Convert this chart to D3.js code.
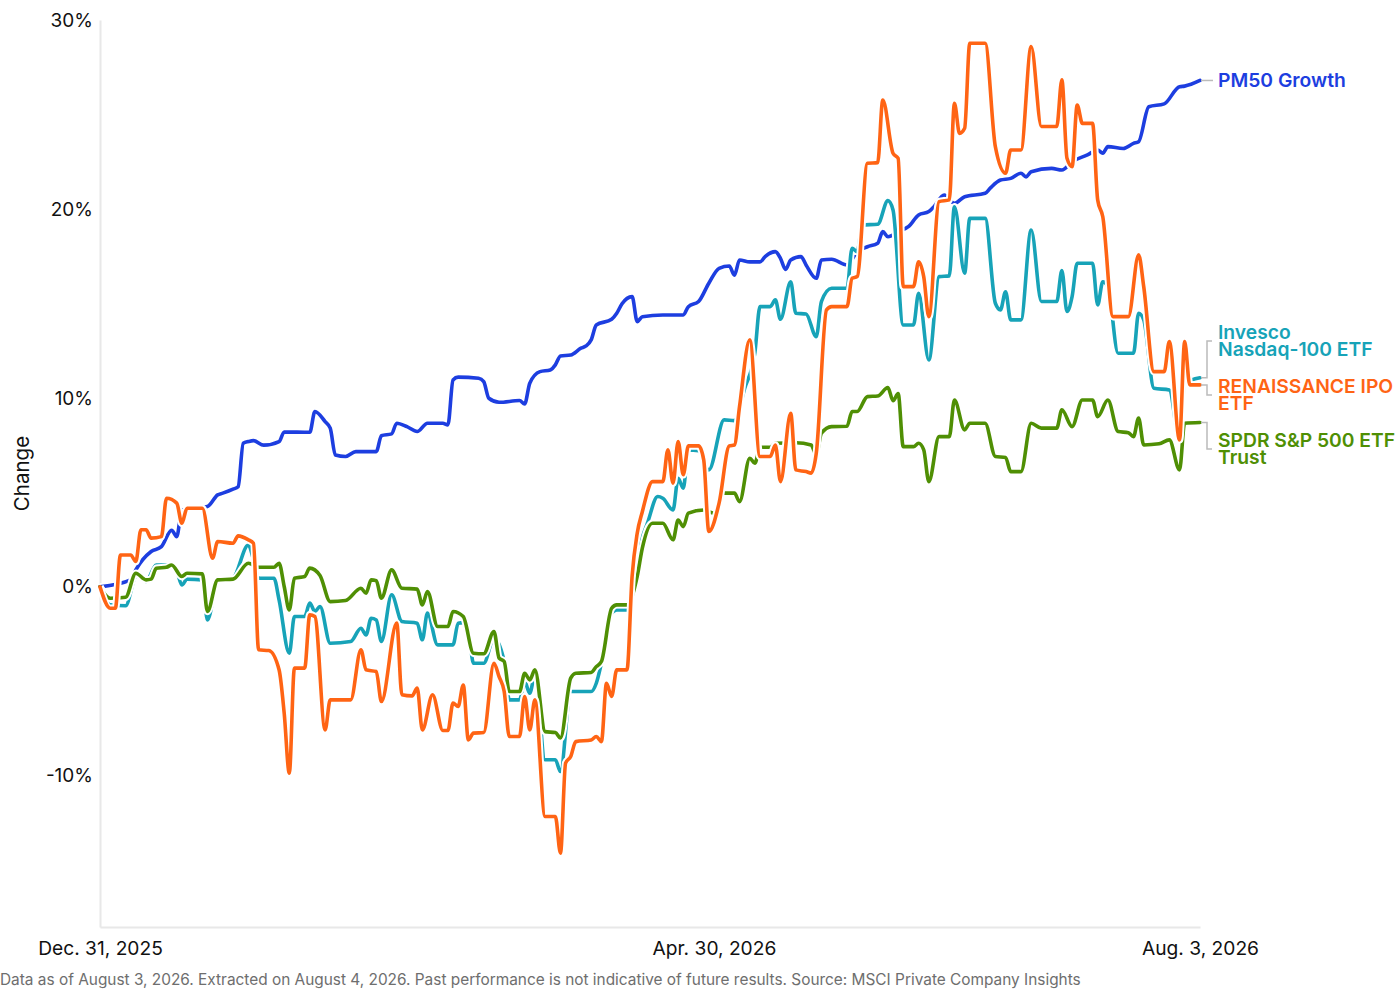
<!DOCTYPE html>
<html>
<head>
<meta charset="utf-8">
<script src="https://cdn.jsdelivr.net/npm/d3@7"></script>
<style>
  body { margin: 0; background: #fff; font-family: Inter, "Noto Sans", sans-serif; }
  svg text { font-family: Inter, "Noto Sans", sans-serif; }
</style>
</head>
<body>
<div id="chart"></div>
<script>
// values: % change since Dec. 31, 2025
var pm50 = [
  ["2025-12-31", 0], ["2026-01-06", 0.37], ["2026-01-07", 0.9], ["2026-01-10", 1.87], ["2026-01-12", 2.13],
  ["2026-01-14", 3.0], ["2026-01-15", 2.66], ["2026-01-16", 4.07], ["2026-01-21", 4.25], ["2026-01-23", 4.87],
  ["2026-01-24", 4.96], ["2026-01-26", 5.17], ["2026-01-27", 5.3], ["2026-01-28", 7.6], ["2026-01-29", 7.69],
  ["2026-01-30", 7.74], ["2026-02-01", 7.5], ["2026-02-04", 7.69], ["2026-02-05", 8.2], ["2026-02-10", 8.18],
  ["2026-02-11", 9.28], ["2026-02-13", 8.75], ["2026-02-14", 8.4], ["2026-02-15", 6.98], ["2026-02-17", 6.9],
  ["2026-02-19", 7.16], ["2026-02-23", 7.16], ["2026-02-24", 8.0], ["2026-02-26", 8.1], ["2026-02-27", 8.66],
  ["2026-03-01", 8.48], ["2026-03-03", 8.22], ["2026-03-05", 8.66], ["2026-03-08", 8.66], ["2026-03-09", 8.57],
  ["2026-03-10", 10.95], ["2026-03-11", 11.1], ["2026-03-15", 11.04], ["2026-03-16", 10.86], ["2026-03-17", 9.98],
  ["2026-03-19", 9.77], ["2026-03-23", 9.86], ["2026-03-24", 9.68], ["2026-03-25", 10.78], ["2026-03-27", 11.39],
  ["2026-03-29", 11.48], ["2026-03-30", 11.75], ["2026-03-31", 12.22], ["2026-04-02", 12.27], ["2026-04-04", 12.63],
  ["2026-04-05", 12.75], ["2026-04-06", 13.07], ["2026-04-07", 13.86], ["2026-04-10", 14.16], ["2026-04-11", 14.48],
  ["2026-04-12", 14.97], ["2026-04-14", 15.36], ["2026-04-15", 14.04], ["2026-04-16", 14.3], ["2026-04-20", 14.39],
  ["2026-04-24", 14.39], ["2026-04-25", 14.83], ["2026-04-27", 15.1], ["2026-04-29", 16.07], ["2026-05-01", 16.86],
  ["2026-05-03", 16.98], ["2026-05-04", 16.5], ["2026-05-05", 17.3], ["2026-05-07", 17.2], ["2026-05-09", 17.2],
  ["2026-05-10", 17.48], ["2026-05-12", 17.74], ["2026-05-13", 17.39], ["2026-05-14", 16.8], ["2026-05-15", 17.3],
  ["2026-05-17", 17.48], ["2026-05-18", 17.04], ["2026-05-20", 16.33], ["2026-05-21", 17.3], ["2026-05-23", 17.34],
  ["2026-05-26", 17.04], ["2026-05-28", 17.74], ["2026-05-30", 18.0], ["2026-06-01", 18.19], ["2026-06-02", 18.8],
  ["2026-06-03", 18.53], ["2026-06-05", 18.8], ["2026-06-07", 19.06], ["2026-06-09", 19.68], ["2026-06-11", 19.86],
  ["2026-06-12", 20.12], ["2026-06-14", 20.74], ["2026-06-16", 20.3], ["2026-06-18", 20.65], ["2026-06-22", 20.83],
  ["2026-06-23", 21.1], ["2026-06-25", 21.53], ["2026-06-27", 21.62], ["2026-06-29", 21.89], ["2026-06-30", 21.7],
  ["2026-07-01", 21.97], ["2026-07-05", 22.15], ["2026-07-07", 22.06], ["2026-07-09", 22.5], ["2026-07-12", 22.86],
  ["2026-07-14", 23.12], ["2026-07-15", 22.95], ["2026-07-16", 23.3], ["2026-07-19", 23.2], ["2026-07-21", 23.47],
  ["2026-07-22", 23.56], ["2026-07-24", 25.41], ["2026-07-27", 25.56], ["2026-07-30", 26.47], ["2026-07-31", 26.5],
  ["2026-08-03", 26.8]
];

var invesco = [
  ["2025-12-31", 0], ["2026-01-02", -0.95], ["2026-01-05", -1.0], ["2026-01-07", 0.55], ["2026-01-08", 0.63],
  ["2026-01-09", 0.28], ["2026-01-11", 1.16], ["2026-01-13", 1.16], ["2026-01-15", 0.81], ["2026-01-16", 0.1],
  ["2026-01-17", 0.41], ["2026-01-20", 0.37], ["2026-01-21", -1.75], ["2026-01-23", 0.28], ["2026-01-26", 0.46],
  ["2026-01-29", 2.22], ["2026-01-30", 1.43], ["2026-01-31", 0.46], ["2026-02-03", 0.46], ["2026-02-04", -0.69],
  ["2026-02-06", -3.51], ["2026-02-07", -1.57], ["2026-02-09", -1.57], ["2026-02-10", -0.86], ["2026-02-11", -1.3],
  ["2026-02-12", -1.04], ["2026-02-14", -2.98], ["2026-02-18", -2.89], ["2026-02-20", -2.19], ["2026-02-21", -2.54],
  ["2026-02-22", -1.66], ["2026-02-23", -1.75], ["2026-02-24", -2.89], ["2026-02-26", -0.42], ["2026-02-28", -1.83],
  ["2026-03-03", -1.92], ["2026-03-04", -2.8], ["2026-03-05", -1.39], ["2026-03-07", -3.07], ["2026-03-10", -3.07],
  ["2026-03-11", -1.92], ["2026-03-12", -1.89], ["2026-03-13", -2.28], ["2026-03-14", -4.04], ["2026-03-16", -4.04],
  ["2026-03-18", -2.72], ["2026-03-20", -3.95], ["2026-03-21", -5.98], ["2026-03-23", -5.98], ["2026-03-24", -5.01],
  ["2026-03-25", -5.63], ["2026-03-26", -4.66], ["2026-03-28", -9.15], ["2026-03-30", -9.15], ["2026-03-31", -9.77],
  ["2026-04-02", -5.54], ["2026-04-06", -5.54], ["2026-04-07", -5.1], ["2026-04-08", -4.04], ["2026-04-10", -1.39],
  ["2026-04-11", -1.22], ["2026-04-13", -1.22], ["2026-04-15", 1.43], ["2026-04-16", 2.6], ["2026-04-17", 3.37],
  ["2026-04-19", 4.78], ["2026-04-20", 4.69], ["2026-04-22", 4.07], ["2026-04-23", 5.75], ["2026-04-24", 5.22],
  ["2026-04-25", 7.25], ["2026-04-27", 7.21], ["2026-04-29", 6.19], ["2026-05-02", 8.84], ["2026-05-04", 8.8],
  ["2026-05-06", 10.5], ["2026-05-08", 12.4], ["2026-05-09", 14.83], ["2026-05-11", 14.83], ["2026-05-12", 15.19],
  ["2026-05-13", 14.16], ["2026-05-15", 16.15], ["2026-05-16", 14.48], ["2026-05-18", 14.44], ["2026-05-20", 13.24],
  ["2026-05-21", 15.1], ["2026-05-23", 15.8], ["2026-05-26", 15.8], ["2026-05-27", 17.92], ["2026-05-28", 17.74],
  ["2026-05-29", 19.15], ["2026-06-01", 19.19], ["2026-06-03", 20.44], ["2026-06-04", 19.95], ["2026-06-06", 13.86],
  ["2026-06-08", 13.86], ["2026-06-09", 15.54], ["2026-06-11", 12.01], ["2026-06-13", 16.42], ["2026-06-15", 16.46],
  ["2026-06-16", 20.12], ["2026-06-18", 16.6], ["2026-06-19", 19.5], ["2026-06-22", 19.5], ["2026-06-24", 15.01],
  ["2026-06-25", 14.66], ["2026-06-26", 15.62], ["2026-06-27", 14.13], ["2026-06-29", 14.13], ["2026-07-01", 18.89],
  ["2026-07-03", 15.1], ["2026-07-06", 15.1], ["2026-07-07", 16.74], ["2026-07-08", 14.57], ["2026-07-09", 15.36],
  ["2026-07-10", 17.13], ["2026-07-13", 17.13], ["2026-07-14", 14.92], ["2026-07-15", 16.15], ["2026-07-16", 15.89],
  ["2026-07-18", 12.36], ["2026-07-21", 12.36], ["2026-07-22", 14.48], ["2026-07-23", 14.13], ["2026-07-25", 10.51],
  ["2026-07-28", 10.42], ["2026-07-30", 7.78], ["2026-07-31", 10.78], ["2026-08-03", 11.07]
];

var renaissance = [
  ["2025-12-31", 0], ["2026-01-02", -1.13], ["2026-01-03", -1.13], ["2026-01-04", 1.69], ["2026-01-06", 1.69],
  ["2026-01-07", 1.34], ["2026-01-08", 3.02], ["2026-01-09", 3.02], ["2026-01-10", 2.58], ["2026-01-12", 2.66],
  ["2026-01-13", 4.69], ["2026-01-15", 4.43], ["2026-01-16", 3.37], ["2026-01-17", 4.16], ["2026-01-20", 4.16],
  ["2026-01-22", 1.52], ["2026-01-23", 2.4], ["2026-01-26", 2.31], ["2026-01-27", 2.7], ["2026-01-29", 2.49],
  ["2026-01-30", 2.31], ["2026-01-31", -3.33], ["2026-02-02", -3.37], ["2026-02-04", -4.39], ["2026-02-05", -6.68],
  ["2026-02-06", -9.86], ["2026-02-07", -4.3], ["2026-02-09", -4.3], ["2026-02-10", -1.48], ["2026-02-11", -1.57],
  ["2026-02-13", -7.57], ["2026-02-14", -5.98], ["2026-02-18", -5.98], ["2026-02-20", -3.33], ["2026-02-21", -4.39],
  ["2026-02-23", -4.48], ["2026-02-24", -6.07], ["2026-02-27", -1.92], ["2026-02-28", -5.71], ["2026-03-02", -5.77],
  ["2026-03-03", -5.36], ["2026-03-04", -7.57], ["2026-03-06", -5.71], ["2026-03-08", -7.6], ["2026-03-09", -7.6],
  ["2026-03-10", -6.15], ["2026-03-11", -6.33], ["2026-03-12", -5.19], ["2026-03-13", -8.1], ["2026-03-14", -7.74],
  ["2026-03-16", -7.71], ["2026-03-18", -4.04], ["2026-03-19", -4.75], ["2026-03-20", -5.54], ["2026-03-21", -7.92],
  ["2026-03-23", -7.92], ["2026-03-24", -5.8], ["2026-03-25", -7.57], ["2026-03-26", -5.98], ["2026-03-28", -12.15],
  ["2026-03-30", -12.15], ["2026-03-31", -14.09], ["2026-04-01", -9.33], ["2026-04-02", -8.98], ["2026-04-03", -8.19],
  ["2026-04-06", -8.1], ["2026-04-07", -7.92], ["2026-04-08", -8.19], ["2026-04-09", -5.1], ["2026-04-10", -5.8],
  ["2026-04-11", -4.39], ["2026-04-13", -4.39], ["2026-04-14", 0.55], ["2026-04-15", 2.84], ["2026-04-16", 3.98],
  ["2026-04-18", 5.57], ["2026-04-20", 5.57], ["2026-04-21", 7.25], ["2026-04-22", 5.49], ["2026-04-23", 7.69],
  ["2026-04-24", 5.93], ["2026-04-25", 7.46], ["2026-04-27", 7.46], ["2026-04-28", 6.72], ["2026-04-29", 2.93],
  ["2026-05-01", 4.43], ["2026-05-03", 7.46], ["2026-05-04", 7.51], ["2026-05-05", 9.54], ["2026-05-07", 13.07],
  ["2026-05-09", 6.9], ["2026-05-11", 6.9], ["2026-05-12", 7.51], ["2026-05-13", 5.57], ["2026-05-15", 9.19],
  ["2026-05-16", 6.19], ["2026-05-18", 6.1], ["2026-05-19", 6.02], ["2026-05-20", 7.07], ["2026-05-22", 14.66],
  ["2026-05-23", 14.83], ["2026-05-26", 14.83], ["2026-05-27", 16.33], ["2026-05-28", 16.42], ["2026-05-30", 22.42],
  ["2026-06-01", 22.45], ["2026-06-02", 25.77], ["2026-06-04", 22.95], ["2026-06-05", 22.68], ["2026-06-06", 15.89],
  ["2026-06-08", 15.89], ["2026-06-09", 17.21], ["2026-06-10", 16.42], ["2026-06-11", 14.3], ["2026-06-13", 20.39],
  ["2026-06-15", 20.48], ["2026-06-16", 25.59], ["2026-06-17", 24.0], ["2026-06-18", 24.27], ["2026-06-19", 28.77],
  ["2026-06-22", 28.77], ["2026-06-24", 23.3], ["2026-06-26", 21.89], ["2026-06-27", 23.12], ["2026-06-29", 23.12],
  ["2026-07-01", 28.59], ["2026-07-03", 24.36], ["2026-07-06", 24.36], ["2026-07-07", 26.83], ["2026-07-08", 22.68],
  ["2026-07-09", 22.24], ["2026-07-10", 25.5], ["2026-07-11", 24.53], ["2026-07-13", 24.53], ["2026-07-14", 20.48],
  ["2026-07-15", 19.59], ["2026-07-17", 14.3], ["2026-07-20", 14.3], ["2026-07-22", 17.57], ["2026-07-23", 15.89],
  ["2026-07-25", 11.39], ["2026-07-27", 11.39], ["2026-07-28", 12.98], ["2026-07-30", 7.78], ["2026-07-31", 12.98],
  ["2026-08-01", 10.69], ["2026-08-03", 10.69]
];

var spdr = [
  ["2025-12-31", 0], ["2026-01-02", -0.6], ["2026-01-05", -0.55], ["2026-01-07", 0.72], ["2026-01-09", 0.37],
  ["2026-01-10", 0.41], ["2026-01-11", 0.99], ["2026-01-13", 1.04], ["2026-01-14", 1.16], ["2026-01-16", 0.55],
  ["2026-01-17", 0.72], ["2026-01-20", 0.69], ["2026-01-21", -1.3], ["2026-01-23", 0.37], ["2026-01-26", 0.41],
  ["2026-01-29", 1.25], ["2026-01-31", 1.04], ["2026-02-03", 1.04], ["2026-02-04", 1.25], ["2026-02-05", 0.02],
  ["2026-02-06", -1.22], ["2026-02-07", 0.46], ["2026-02-09", 0.55], ["2026-02-10", 0.99], ["2026-02-12", 0.6],
  ["2026-02-14", -0.78], ["2026-02-17", -0.72], ["2026-02-20", -0.07], ["2026-02-21", -0.33], ["2026-02-22", 0.37],
  ["2026-02-23", 0.33], ["2026-02-24", -0.6], ["2026-02-26", 0.9], ["2026-02-28", -0.07], ["2026-03-03", -0.12],
  ["2026-03-04", -0.95], ["2026-03-05", -0.25], ["2026-03-07", -2.1], ["2026-03-09", -2.1], ["2026-03-10", -1.3],
  ["2026-03-12", -1.57], ["2026-03-14", -3.51], ["2026-03-16", -3.54], ["2026-03-18", -2.36], ["2026-03-19", -3.77],
  ["2026-03-20", -3.95], ["2026-03-21", -5.54], ["2026-03-23", -5.54], ["2026-03-24", -4.57], ["2026-03-25", -4.92],
  ["2026-03-26", -4.39], ["2026-03-28", -7.66], ["2026-03-30", -7.71], ["2026-03-31", -8.0], ["2026-04-02", -4.83],
  ["2026-04-03", -4.57], ["2026-04-06", -4.53], ["2026-04-07", -4.22], ["2026-04-08", -3.95], ["2026-04-10", -1.13],
  ["2026-04-11", -0.95], ["2026-04-13", -0.95], ["2026-04-15", 0.55], ["2026-04-16", 2.05], ["2026-04-18", 3.37],
  ["2026-04-20", 3.37], ["2026-04-22", 2.49], ["2026-04-23", 3.54], ["2026-04-24", 3.19], ["2026-04-25", 3.9],
  ["2026-04-28", 4.07], ["2026-04-30", 3.9], ["2026-05-02", 4.96], ["2026-05-04", 4.96], ["2026-05-05", 4.51],
  ["2026-05-07", 6.81], ["2026-05-08", 6.54], ["2026-05-09", 7.39], ["2026-05-11", 7.39], ["2026-05-12", 7.6],
  ["2026-05-16", 7.63], ["2026-05-19", 7.51], ["2026-05-20", 6.98], ["2026-05-21", 8.13], ["2026-05-23", 8.48],
  ["2026-05-26", 8.5], ["2026-05-27", 9.28], ["2026-05-28", 9.28], ["2026-05-30", 10.07], ["2026-06-01", 10.1],
  ["2026-06-03", 10.55], ["2026-06-04", 9.85], ["2026-06-05", 10.23], ["2026-06-06", 7.42], ["2026-06-08", 7.42],
  ["2026-06-09", 7.6], ["2026-06-10", 7.25], ["2026-06-11", 5.57], ["2026-06-13", 7.95], ["2026-06-15", 7.95],
  ["2026-06-16", 9.89], ["2026-06-18", 8.31], ["2026-06-19", 8.66], ["2026-06-22", 8.66], ["2026-06-24", 6.9],
  ["2026-06-26", 6.85], ["2026-06-27", 6.1], ["2026-06-29", 6.1], ["2026-07-01", 8.66], ["2026-07-03", 8.4],
  ["2026-07-06", 8.4], ["2026-07-07", 9.37], ["2026-07-09", 8.48], ["2026-07-11", 9.89], ["2026-07-13", 9.89],
  ["2026-07-14", 9.01], ["2026-07-16", 9.89], ["2026-07-18", 8.22], ["2026-07-20", 8.16], ["2026-07-21", 7.95],
  ["2026-07-22", 8.93], ["2026-07-23", 7.51], ["2026-07-26", 7.57], ["2026-07-28", 7.78], ["2026-07-30", 6.19],
  ["2026-07-31", 8.66], ["2026-08-03", 8.7]
];

var seriesNames = ["PM50 Growth", "Invesco Nasdaq-100 ETF", "RENAISSANCE IPO ETF", "SPDR S&P 500 ETF Trust"];
var labelLines = [["PM50 Growth"], ["Invesco", "Nasdaq-100 ETF"], ["RENAISSANCE IPO", "ETF"], ["SPDR S&P 500 ETF", "Trust"]];
var seriesColors = ["#1d3ee0", "#17a3b8", "#ff6414", "#4f8f04"];
var yTicks = [-10, 0, 10, 20, 30];
var xTicks = ["2025-12-31", "2026-04-30", "2026-08-03"];
var footnote = "Data as of August 3, 2026. Extracted on August 4, 2026. Past performance is not indicative of future results. Source: MSCI Private Company Insights";

function PerformanceChart() {
    var W = 1400, H = 1000;
    var margin = { top: 20, right: 200, bottom: 73, left: 100 },
        width = W - margin.left - margin.right,
        height = H - margin.top - margin.bottom;

    var parse = d3.timeParse('%Y-%m-%d');
    var allSeries = [pm50, invesco, renaissance, spdr].map(function(s, i) {
        return {
            name: seriesNames[i],
            lines: labelLines[i],
            color: seriesColors[i],
            values: s.map(function(d) { return { date: parse(d[0]), value: d[1] }; })
        };
    });

    var svg = d3
        .select('#chart')
        .append('svg')
        .attr('width', W)
        .attr('height', H);

    var g = svg.append('g').attr('transform', 'translate(' + margin.left + ',' + margin.top + ')');

    var x = d3.scaleTime()
        .domain([parse(xTicks[0]), parse(xTicks[xTicks.length - 1])])
        .range([0, width]);
    var y = d3.scaleLinear()
        .domain([-18, 30])
        .range([height, 0]);

    // axes
    var fmt = d3.timeFormat('%b. %-d, %Y');
    var xAxis = g.append('g')
        .attr('transform', 'translate(0,' + height + ')')
        .call(d3.axisBottom(x)
            .tickValues(xTicks.map(parse))
            .tickFormat(fmt)
            .tickSize(0)
            .tickPadding(14));
    xAxis.select('.domain').attr('stroke', '#e8e8e8').attr('stroke-width', 2);
    xAxis.selectAll('text').attr('font-size', 19.2).attr('fill', '#111');

    var yAxis = g.append('g')
        .call(d3.axisLeft(y)
            .tickValues(yTicks)
            .tickFormat(function(d) { return d + '%'; })
            .tickSize(0)
            .tickPadding(7));
    yAxis.select('.domain').attr('stroke', '#e8e8e8').attr('stroke-width', 2);
    yAxis.selectAll('text').attr('font-size', 19).attr('fill', '#111');

    g.append('text')
        .attr('transform', 'translate(' + (22 - margin.left) + ',' + height / 2 + ') rotate(-90)')
        .attr('text-anchor', 'middle')
        .attr('dy', '0.35em')
        .attr('font-size', 20.5)
        .attr('fill', '#111')
        .text('Change');

    // lines, each with a white halo
    var line = d3.line()
        .x(function(d) { return x(d.date); })
        .y(function(d) { return y(d.value); })
        .curve(d3.curveMonotoneX);

    var drawOrder = [0, 1, 3, 2];
    drawOrder.forEach(function(i) {
        var s = allSeries[i];
        g.append('path')
            .datum(s.values)
            .attr('fill', 'none')
            .attr('stroke', '#fff')
            .attr('stroke-width', 7.5)
            .attr('stroke-linejoin', 'round')
            .attr('d', line);
        g.append('path')
            .datum(s.values)
            .attr('fill', 'none')
            .attr('stroke', s.color)
            .attr('stroke-width', 3.6)
            .attr('stroke-linejoin', 'round')
            .attr('stroke-linecap', 'round')
            .attr('d', line);
    });

    // end labels: spread overlapping labels apart around their mean
    var labels = allSeries.map(function(s) {
        var last = s.values[s.values.length - 1];
        return { s: s, endY: y(last.value), pos: y(last.value) };
    });
    var sorted = labels.slice().sort(function(a, b) { return a.endY - b.endY; });
    var gap = 54;
    var clusters = sorted.map(function(l) { return { items: [l], center: l.endY }; });
    var merged = true;
    while (merged) {
        merged = false;
        for (var k = 1; k < clusters.length; k++) {
            var a = clusters[k - 1], b = clusters[k];
            var aBottom = a.center + (a.items.length - 1) * gap / 2;
            var bTop = b.center - (b.items.length - 1) * gap / 2;
            if (bTop - aBottom < gap) {
                var items = a.items.concat(b.items);
                var c = d3.mean(items, function(l) { return l.endY; });
                clusters.splice(k - 1, 2, { items: items, center: c });
                merged = true;
                break;
            }
        }
    }
    clusters.forEach(function(c) {
        c.items.forEach(function(l, j) {
            l.pos = c.center + (j - (c.items.length - 1) / 2) * gap;
        });
    });

    var lx = width + 18;
    labels.forEach(function(l) {
        var elbow = width + 7;
        g.append('path')
            .attr('fill', 'none')
            .attr('stroke', '#bbb')
            .attr('stroke-width', 1.5)
            .attr('d', Math.abs(l.pos - l.endY) < 1
                ? 'M' + (width + 1) + ',' + l.endY + 'H' + (width + 13)
                : 'M' + (width + 1) + ',' + l.endY + 'H' + elbow + 'V' + l.pos + 'H' + (width + 12));
        var n = l.s.lines.length;
        var first = n === 1 ? l.pos + 6.5 : l.pos - 2;
        var t = g.append('text')
            .attr('x', lx)
            .attr('y', first)
            .attr('fill', l.s.color)
            .attr('font-size', 19.3)
            .attr('font-weight', 600);
        l.s.lines.forEach(function(txt, j) {
            t.append('tspan')
                .attr('x', lx)
                .attr('y', first + j * 17)
                .text(txt);
        });
    });

    svg.append('text')
        .attr('x', 0)
        .attr('y', 985)
        .attr('font-size', 15.4)
        .attr('fill', '#6e6e6e')
        .text(footnote);
}

PerformanceChart();
</script>
</body>
</html>
